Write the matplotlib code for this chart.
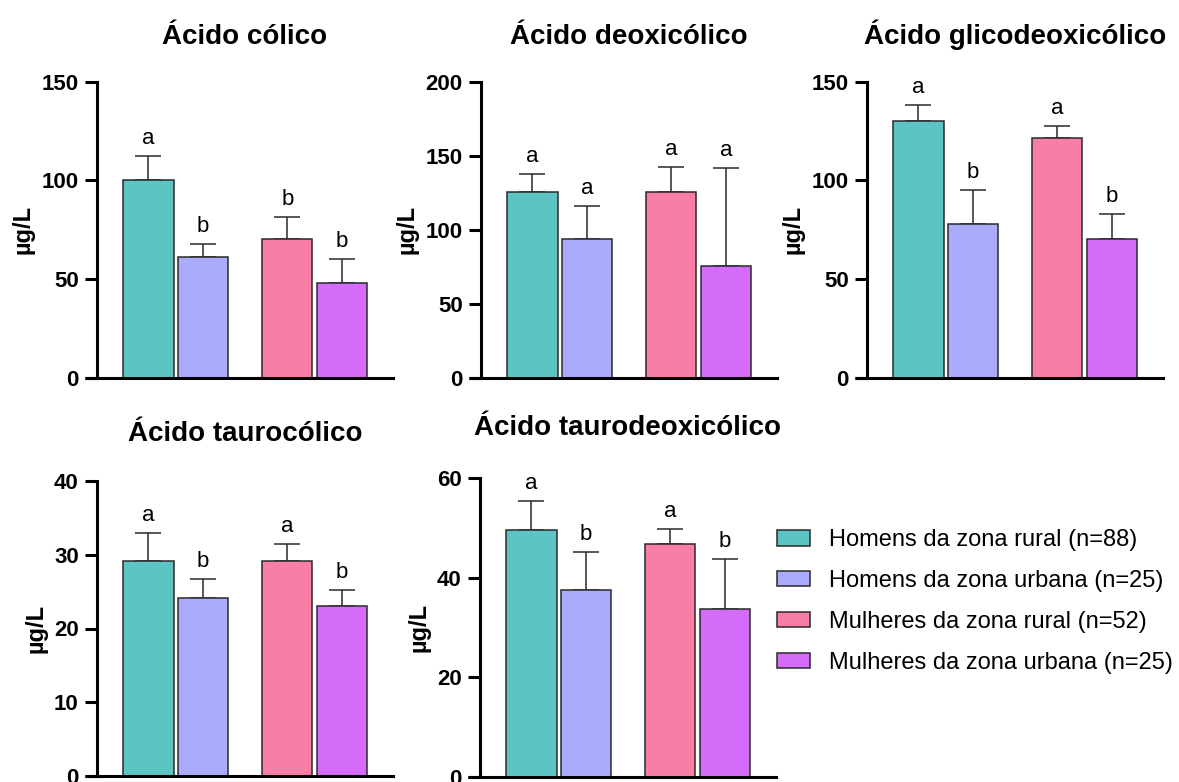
"""
    Bile acid concentrations by sex and zone, five panels plus a legend.
"""

import numpy as np
import matplotlib
matplotlib.use("Agg")
import matplotlib.pyplot as plt
from matplotlib.patches import Patch

plt.rcParams['font.family'] = ['Liberation Sans', 'DejaVu Sans']

# groups (legend) and bar colours
groups = ["Homens da zona rural (n=88)", "Homens da zona urbana (n=25)",
          "Mulheres da zona rural (n=52)", "Mulheres da zona urbana (n=25)"]
colors = ["#5CC5C4", "#ABABFD", "#F87EA5", "#D56CF9"]

# panel titles
titles = ["Ácido cólico", "Ácido deoxicólico", "Ácido glicodeoxicólico",
          "Ácido taurocólico", "Ácido taurodeoxicólico"]

# means and upper error (SEM) per panel
colico_mean = [100.1, 61.4, 70.4, 48.1]
colico_err = [12.4, 6.4, 11.1, 12.1]
colico_letters = ["a", "b", "b", "b"]

deoxi_mean = [125.8, 93.6, 125.8, 75.6]
deoxi_err = [11.9, 22.7, 16.8, 65.9]
deoxi_letters = ["a", "a", "a", "a"]

glico_mean = [130.3, 77.8, 121.3, 70.2]
glico_err = [7.9, 17.4, 6.4, 12.7]
glico_letters = ["a", "b", "a", "b"]

tauro_mean = [29.2, 24.1, 29.2, 23.1]
tauro_err = [3.7, 2.6, 2.2, 2.1]
tauro_letters = ["a", "b", "a", "b"]

taurodeoxi_mean = [49.7, 37.5, 46.8, 33.7]
taurodeoxi_err = [5.8, 7.6, 3.1, 10.0]
taurodeoxi_letters = ["a", "b", "a", "b"]

# y ticks per panel
colico_ticks = [0, 50, 100, 150]
deoxi_ticks = [0, 50, 100, 150, 200]
glico_ticks = [0, 50, 100, 150]
tauro_ticks = [0, 10, 20, 30, 40]
taurodeoxi_ticks = [0, 20, 40, 60]

panels = [
    (colico_mean, colico_err, colico_letters, colico_ticks),
    (deoxi_mean, deoxi_err, deoxi_letters, deoxi_ticks),
    (glico_mean, glico_err, glico_letters, glico_ticks),
    (tauro_mean, tauro_err, tauro_letters, tauro_ticks),
    (taurodeoxi_mean, taurodeoxi_err, taurodeoxi_letters, taurodeoxi_ticks),
]

# axes rectangles in figure fraction (left, bottom, width, height)
W, H = 1179, 782
rects = [
    (97 / W, 1 - 378 / H, 296 / W, 296.3 / H),
    (481 / W, 1 - 378 / H, 296 / W, 296.3 / H),
    (867 / W, 1 - 378 / H, 296 / W, 296.3 / H),
    (97 / W, 1 - 776 / H, 296 / W, 295 / H),
    (480 / W, 1 - 776.7 / H, 296 / W, 298.4 / H),
]
title_pads = [27, 27, 27, 29, 31]

x = np.array([0, 1, 2.55, 3.55])
width = 0.92
edge = "#2a2a2a"

fig = plt.figure(figsize=(W / 100, H / 100), dpi=100)

for (mean, err, letters, ticks), rect, title, tpad in zip(panels, rects, titles, title_pads):
    ax = fig.add_axes(rect)
    ax.bar(x, mean, width=width, color=colors, edgecolor=edge, linewidth=1.1, zorder=2)
    ax.errorbar(x, mean, yerr=[np.zeros(4), err], fmt="none", ecolor=edge,
                elinewidth=1.1, capsize=9.7, capthick=1.1, zorder=1)
    for xi, m, e, lab in zip(x, mean, err, letters):
        ax.annotate(lab, (xi, m + e), xytext=(0, 5), textcoords="offset points",
                    ha="center", va="bottom", fontsize=16)

    ax.set_xlim(-0.945, 4.49)
    ax.set_ylim(ticks[0], ticks[-1])
    ax.set_yticks(ticks)
    ax.set_xticks([])
    for lbl in ax.get_yticklabels():
        lbl.set_fontweight("bold")
    ax.tick_params(axis="y", length=8.6, width=2.2, labelsize=16, pad=4.5)
    ax.spines[["top", "right"]].set_visible(False)
    ax.spines[["left", "bottom"]].set_linewidth(2.2)
    # Prism-style: x axis runs on past the y axis by one tick length
    ax.plot([-0.04, 0], [0, 0], color="black", lw=2.2, transform=ax.transAxes,
            clip_on=False, solid_capstyle="butt")
    ax.set_ylabel("µg/L", fontsize=17, fontweight="bold", labelpad=5)
    ax.set_title(title, fontsize=20, fontweight="bold", pad=tpad)

handles = [Patch(facecolor=c, edgecolor=edge, linewidth=1.1) for c in colors]
fig.legend(handles, groups, loc="upper left", bbox_to_anchor=(777 / W, 1 - 529 / H),
           frameon=False, fontsize=17, handlelength=1.4, handleheight=0.64,
           handletextpad=0.8, labelspacing=0.8, borderpad=0, borderaxespad=0)

fig.savefig("out.png", dpi=100)
